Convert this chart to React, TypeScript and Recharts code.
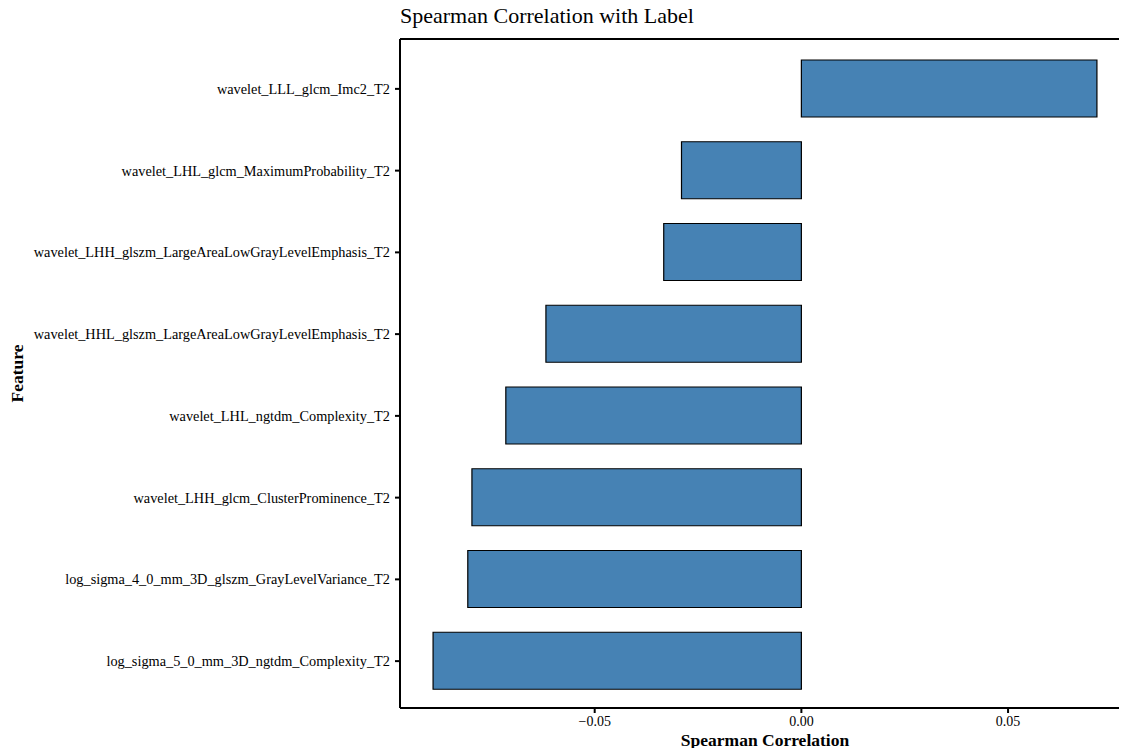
import React from 'react';
import { BarChart, Bar, XAxis, YAxis } from 'recharts';

const features = [
  'wavelet_LLL_glcm_Imc2_T2',
  'wavelet_LHL_glcm_MaximumProbability_T2',
  'wavelet_LHH_glszm_LargeAreaLowGrayLevelEmphasis_T2',
  'wavelet_HHL_glszm_LargeAreaLowGrayLevelEmphasis_T2',
  'wavelet_LHL_ngtdm_Complexity_T2',
  'wavelet_LHH_glcm_ClusterProminence_T2',
  'log_sigma_4_0_mm_3D_glszm_GrayLevelVariance_T2',
  'log_sigma_5_0_mm_3D_ngtdm_Complexity_T2',
];
const correlations = [0.0715, -0.029, -0.0333, -0.0618, -0.0715, -0.0797, -0.0807, -0.0891];
const xTicks = [-0.05, 0, 0.05];

const data = features.map((feature, i) => ({ feature, value: correlations[i] }));

const FONT = '"Liberation Serif", "Times New Roman", serif';

const fmt = (v: number) => (v < 0 ? '\u2212' + Math.abs(v).toFixed(2) : v.toFixed(2));

const App: React.FC = () => {
  return (
    <div style={{ position: 'relative', margin: -8, width: 1127, height: 756, overflow: 'hidden', fontFamily: FONT }}>
      <div style={{ position: 'absolute', left: 400, top: 3, fontSize: 22, color: '#000', whiteSpace: 'nowrap' }}>
        Spearman Correlation with Label
      </div>
      <BarChart
        width={1140}
        height={756}
        data={data}
        layout="vertical"
        margin={{ top: 38, right: 9, bottom: 0, left: 0 }}
      >
        <XAxis
          type="number"
          dataKey="value"
          domain={[-0.0971, 0.0795]}
          ticks={xTicks}
          tickFormatter={fmt}
          allowDataOverflow
          height={48}
          stroke="#000"
          strokeWidth={2}
          tickSize={5}
          tickMargin={3}
          tick={{ fill: '#000', fontSize: 14, fontFamily: FONT }}
          label={{ value: 'Spearman Correlation', position: 'insideBottom', offset: 10, fill: '#000', fontSize: 17.5, fontWeight: 'bold', fontFamily: FONT }}
        />
        <XAxis
          xAxisId="top"
          type="number"
          orientation="top"
          domain={[-0.0971, 0.0795]}
          allowDataOverflow
          height={1}
          tick={false}
          tickLine={false}
          stroke="#000"
          strokeWidth={2}
        />
        <YAxis
          type="category"
          dataKey="feature"
          width={400}
          padding={{ top: 9, bottom: 6 }}
          stroke="#000"
          strokeWidth={2}
          tickSize={5}
          tickMargin={5}
          interval={0}
          tick={{ fill: '#000', fontSize: 14.3, fontFamily: FONT }}
          label={{
            content: (props: any) => {
              const vb = props.viewBox || {};
              const cx = 17;
              const cy = (vb.y || 0) + (vb.height || 0) / 2;
              return (
                <text x={cx} y={cy} transform={`rotate(-90 ${cx} ${cy})`} textAnchor="middle" dominantBaseline="central" fill="#000" fontSize={17.5} fontWeight="bold" fontFamily={FONT}>
                  Feature
                </text>
              );
            },
          }}
        />
        <YAxis
          yAxisId="right"
          type="category"
          dataKey="feature"
          orientation="right"
          width={1}
          tick={false}
          tickLine={false}
          stroke="#000"
          strokeWidth={2}
        />
        <Bar dataKey="value" fill="#4682b4" stroke="#000" strokeWidth={1.2} barSize={57} isAnimationActive={false} />
      </BarChart>
    </div>
  );
};

export default App;
